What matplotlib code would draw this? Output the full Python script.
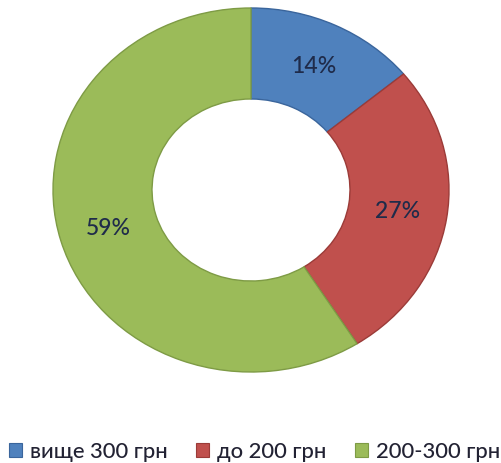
import matplotlib
matplotlib.use("Agg")
import matplotlib.pyplot as plt
from matplotlib.patches import Patch

plt.rcParams['font.family'] = ['Lato', 'Open Sans', 'DejaVu Sans']

categories = ["вище 300 грн", "до 200 грн", "200-300 грн"]
values = [14, 27, 59]
colors = ["#4F81BD", "#C0504D", "#9BBB59"]
edges = ["#3A659C", "#9B3B38", "#7E9B45"]
text_color = "#1F2B4A"

fig = plt.figure(figsize=(5.01, 4.63), dpi=100)
W, H = 501, 463
left, right, top, bottom = 53, 449, 8, 372
ax = fig.add_axes([left / W, (H - bottom) / H, (right - left) / W, (bottom - top) / H])

wedges, texts, autotexts = ax.pie(
    values, colors=colors, startangle=90, counterclock=False,
    autopct=lambda p: f"{p:.0f}%", pctdistance=0.75,
    wedgeprops=dict(width=0.5, linewidth=1.0),
    textprops=dict(color=text_color, fontsize=16.5, fontweight='medium'),
)
for w, ec in zip(wedges, edges):
    w.set_edgecolor(ec)
ax.set_aspect('auto')
ax.set_xlim(-1, 1)
ax.set_ylim(-1, 1)
ax.axis('off')

handles = [Patch(facecolor=c, edgecolor=e, linewidth=0.8) for c, e in zip(colors, edges)]
fig.legend(handles, categories, loc='center', bbox_to_anchor=(0.508, (H - 452) / H),
           ncol=3, frameon=False, prop=dict(size=15.8, weight='medium'),
           handlelength=0.6, handleheight=0.6, borderpad=0.0,
           handletextpad=0.35, columnspacing=1.3, labelcolor="#222233")

fig.savefig("out.png", dpi=100)
